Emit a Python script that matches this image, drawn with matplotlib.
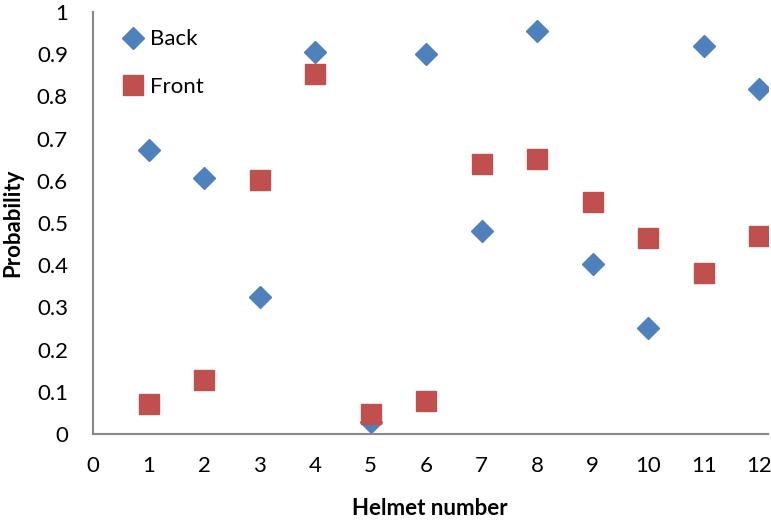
import matplotlib.pyplot as plt

plt.rcParams['font.family'] = ['Lato', 'DejaVu Sans']

helmets = [1, 2, 3, 4, 5, 6, 7, 8, 9, 10, 11, 12]
back = [0.673, 0.607, 0.325, 0.905, 0.027, 0.900, 0.481, 0.955, 0.403, 0.251, 0.919, 0.817]
front = [0.072, 0.128, 0.602, 0.853, 0.047, 0.078, 0.640, 0.652, 0.550, 0.464, 0.382, 0.469]

fig = plt.figure(figsize=(7.71, 5.24), dpi=100)
ax = fig.add_axes([0.1206, 0.172, 0.875, 0.805])

ax.plot(helmets, back, linestyle='none', marker='D', markersize=11,
        color='#4F81BD', label='Back')
ax.plot(helmets, front, linestyle='none', marker='s', markersize=14,
        color='#C0504D', label='Front')

ax.set_xlim(0, 12.15)
ax.set_ylim(0, 1)
ax.set_xticks(range(0, 13))
ax.set_yticks([i / 10 for i in range(11)])
ax.set_yticklabels(['0', '0.1', '0.2', '0.3', '0.4', '0.5', '0.6', '0.7', '0.8', '0.9', '1'])
ax.tick_params(length=0, labelsize=16)
ax.tick_params(axis='x', pad=16)
ax.tick_params(axis='y', pad=18)

for side in ['top', 'right']:
    ax.spines[side].set_visible(False)
for side in ['left', 'bottom']:
    ax.spines[side].set_color('#888888')
    ax.spines[side].set_linewidth(1.5)

ax.set_xlabel('Helmet number', fontsize=16, fontweight='bold')
ax.set_ylabel('Probability', fontsize=16, fontweight='bold')
ax.xaxis.set_label_coords(0.5, -0.152)
ax.yaxis.set_label_coords(-0.104, 0.5)

ax.legend(loc='upper left', bbox_to_anchor=(0.03, 0.98), frameon=False,
          fontsize=16, handlelength=1.0, handletextpad=0.25,
          labelspacing=1.25, borderaxespad=0)

fig.savefig('out.png', dpi=100)
